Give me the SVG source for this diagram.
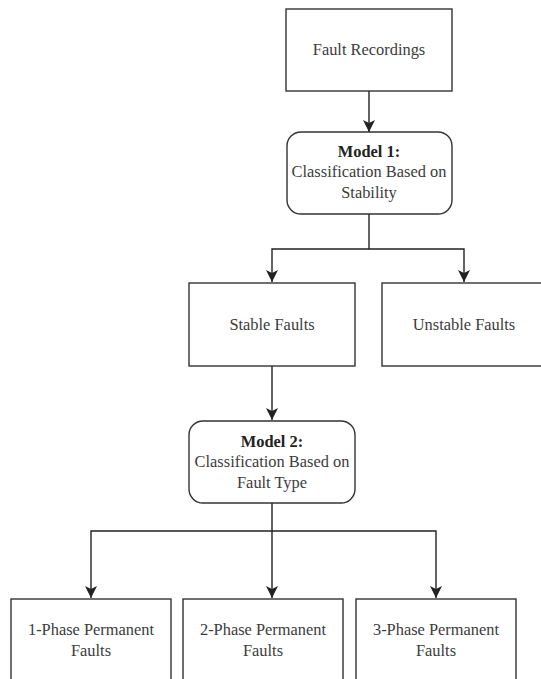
<svg xmlns="http://www.w3.org/2000/svg" width="541" height="679" viewBox="0 0 541 679">
<defs>
<style>
.box{fill:#fff;stroke:#333;stroke-width:1.4}
.c{fill:none;stroke:#222;stroke-width:1.4}
</style>
<marker id="arr" markerUnits="userSpaceOnUse" markerWidth="12" markerHeight="12" refX="10" refY="5" orient="auto" viewBox="0 0 10 10">
<path d="M0,0 L10,5 L0,10 L2.5,5 Z" fill="#222"/>
</marker>
</defs>
<rect width="541" height="679" fill="#fff"/>
<g id="connectors">
<path class="c" d="M369,91 V132" marker-end="url(#arr)"/>
<path class="c" d="M369,214 V249 H272 V282" marker-end="url(#arr)"/>
<path class="c" d="M369,249 H464 V282" marker-end="url(#arr)"/>
<path class="c" d="M272,366 V420" marker-end="url(#arr)"/>
<path class="c" d="M272,503 V531 H91 V598" marker-end="url(#arr)"/>
<path class="c" d="M272,531 V598" marker-end="url(#arr)"/>
<path class="c" d="M272,531 H436 V598" marker-end="url(#arr)"/>
</g>
<g font-family="Times New Roman, Liberation Serif, serif" font-size="16.4" fill="#3c3c3c" text-anchor="middle">
<g id="fault-recordings">
<rect class="box" x="286" y="9" width="166" height="82"/>
<text x="369" y="55">Fault Recordings</text>
</g>
<g id="model1">
<rect class="box" x="287" y="132" width="165" height="82" rx="14"/>
<text font-weight="bold" fill="#222" x="369" y="157">Model 1:</text>
<text x="369" y="177">Classification Based on</text>
<text x="369" y="198">Stability</text>
</g>
<g id="stable">
<rect class="box" x="189" y="283" width="166" height="83"/>
<text x="272" y="330">Stable Faults</text>
</g>
<g id="unstable">
<rect class="box" x="382" y="283" width="165" height="83"/>
<text x="464" y="330">Unstable Faults</text>
</g>
<g id="model2">
<rect class="box" x="189" y="421" width="166" height="82" rx="14"/>
<text font-weight="bold" fill="#222" x="272" y="447">Model 2:</text>
<text x="272" y="467">Classification Based on</text>
<text x="272" y="488">Fault Type</text>
</g>
<g id="phase1">
<rect class="box" x="11" y="599" width="160" height="84"/>
<text x="91" y="635">1-Phase Permanent</text>
<text x="91" y="656">Faults</text>
</g>
<g id="phase2">
<rect class="box" x="183" y="599" width="160" height="84"/>
<text x="263" y="635">2-Phase Permanent</text>
<text x="263" y="656">Faults</text>
</g>
<g id="phase3">
<rect class="box" x="356" y="599" width="160" height="84"/>
<text x="436" y="635">3-Phase Permanent</text>
<text x="436" y="656">Faults</text>
</g>
</g>
</svg>
